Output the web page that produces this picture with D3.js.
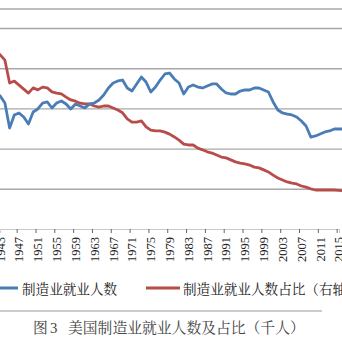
<!DOCTYPE html>
<html>
<head>
<meta charset="utf-8">
<script src="https://cdn.jsdelivr.net/npm/d3@7/dist/d3.min.js"></script>
<style>
  html, body { margin: 0; padding: 0; background: #fff; overflow: hidden; }
  svg { display: block; }
</style>
</head>
<body>
<svg id="chart" width="342" height="342"></svg>
<script>
// US manufacturing employment (thousands) and its share of total employment (%)
const years = d3.range(1942, 2018);
const employment = [
  17040, 16540, 15670, 12560, 14180, 14430, 13930, 13060, 14550, 14930,
  15670, 15800, 15050, 15670, 15920, 15550, 14930, 15550, 15300, 15050,
  15550, 15670, 16050, 16670, 17540, 18160, 18410, 18530, 17540, 17160,
  18040, 18910, 18280, 17040, 17660, 18530, 19280, 19400, 18660, 18160,
  16790, 17660, 17910, 17660, 17540, 17790, 18040, 18040, 17410, 16920,
  16790, 16790, 17160, 17290, 17290, 17540, 17540, 17290, 17040, 15800,
  14800, 14430, 14300, 14180, 13930, 13430, 12810, 11440, 11570, 11820,
  12070, 12190, 12440, 12440, 12440, 12500
];
const share = [
  44.5, 43.3, 42.0, 36.3, 36.8, 35.8, 34.8, 33.8, 35.1, 34.6,
  35.3, 35.1, 34.1, 33.8, 33.6, 32.8, 32.1, 31.8, 31.3, 31.1,
  31.1, 30.6, 30.3, 30.6, 30.6, 30.1, 29.6, 28.9, 27.4, 26.6,
  26.6, 26.9, 25.4, 24.6, 24.4, 24.4, 24.1, 23.6, 22.9, 22.1,
  21.1, 20.9, 20.9, 20.1, 19.7, 19.2, 18.9, 18.4, 17.9, 17.7,
  17.2, 16.7, 16.4, 16.2, 15.9, 15.4, 15.2, 14.7, 14.2, 13.4,
  12.7, 12.2, 11.7, 11.4, 11.2, 10.7, 10.4, 10.0, 9.7, 9.7,
  9.7, 9.7, 9.7, 9.6, 9.5, 9.5
];
const labelYears = d3.range(1943, 2020, 4);
const leftTicks = [0, 5000, 10000, 15000, 20000, 25000];
const seriesNames = ["制造业就业人数", "制造业就业人数占比（右轴）"];
const titleParts = ["图", "3", "美国制造业就业人数及占比（千人）"];

const colors = { emp: "#4A7DB5", share: "#B84C4A", grid: "#A8A8A8", text: "#222" };

const svg = d3.select("#chart");

// Scales: the plot runs past the left and right edges of the view
const x = d3.scaleLinear().domain([1943, 2015]).range([0.2, 339]);
const yL = d3.scaleLinear().domain([0, 25000]).range([229, 28]);
const yR = d3.scaleLinear().domain([0, 50]).range([229, 28]);

const plotLeft = x(1940), plotRight = x(2019);

// Frame line above the plot
svg.append("line")
  .attr("x1", plotLeft).attr("x2", plotRight)
  .attr("y1", 9).attr("y2", 9)
  .attr("stroke", colors.grid).attr("stroke-width", 1.4);

// Horizontal gridlines from the left value axis
const grid = svg.append("g")
  .attr("transform", `translate(${plotLeft},0)`)
  .call(d3.axisLeft(yL).tickValues(leftTicks.slice(1)).tickSize(-(plotRight - plotLeft)).tickFormat(""));
grid.select(".domain").remove();
grid.selectAll(".tick line").attr("stroke", colors.grid).attr("stroke-width", 1.4);

// Category axis: tick marks between categories, every fourth year
const xAxis = svg.append("g")
  .attr("transform", `translate(0,${yL(0)})`)
  .call(d3.axisBottom(x).tickValues(labelYears.map(d => d - 0.5)).tickSize(4).tickFormat(""));
xAxis.select(".domain").attr("stroke", "#bbb").attr("stroke-width", 0.8);
xAxis.selectAll(".tick line").attr("stroke", "#666").attr("stroke-width", 1);

// Rotated year labels
svg.append("g").selectAll("text")
  .data(labelYears)
  .join("text")
  .attr("transform", d => `translate(${x(d)},${yL(0) + 8}) rotate(-90)`)
  .attr("text-anchor", "end")
  .attr("dy", "0.35em")
  .attr("font-family", "'Liberation Serif', 'DejaVu Serif', serif")
  .attr("font-size", 12.5)
  .attr("fill", colors.text)
  .text(d => d);

// Series lines
const lineEmp = d3.line().x((d, i) => x(years[i])).y(d => yL(d));
const lineShare = d3.line().x((d, i) => x(years[i])).y(d => yR(d));

svg.append("path")
  .attr("d", lineShare(share))
  .attr("fill", "none")
  .attr("stroke", colors.share)
  .attr("stroke-width", 2.8)
  .attr("stroke-linejoin", "round");

svg.append("path")
  .attr("d", lineEmp(employment))
  .attr("fill", "none")
  .attr("stroke", colors.emp)
  .attr("stroke-width", 2.8)
  .attr("stroke-linejoin", "round");

// Legend
const cjk = "'Noto Serif CJK SC', 'Noto Sans CJK SC', sans-serif";
const legend = [
  { name: seriesNames[0], color: colors.emp, x0: -2, x1: 18, tx: 22 },
  { name: seriesNames[1], color: colors.share, x0: 146, x1: 180, tx: 183 }
];
const lg = svg.append("g");
legend.forEach(d => {
  lg.append("line")
    .attr("x1", d.x0).attr("x2", d.x1).attr("y1", 288).attr("y2", 288)
    .attr("stroke", d.color).attr("stroke-width", 3);
  lg.append("text")
    .attr("x", d.tx).attr("y", 293.5)
    .attr("font-family", cjk).attr("font-size", 13.6)
    .attr("fill", colors.text)
    .text(d.name);
});

// Line under the legend
svg.append("line")
  .attr("x1", 0).attr("x2", 322).attr("y1", 311).attr("y2", 311)
  .attr("stroke", "#999").attr("stroke-width", 1.2);

// Figure caption
const title = svg.append("text")
  .attr("y", 333)
  .attr("font-family", cjk).attr("font-size", 14.8)
  .attr("fill", "#444");
title.append("tspan").attr("x", 33).text(titleParts[0]);
title.append("tspan").attr("x", 50).attr("font-family", "'Liberation Serif', serif").text(titleParts[1]);
title.append("tspan").attr("x", 68).text(titleParts[2]);
</script>
</body>
</html>
